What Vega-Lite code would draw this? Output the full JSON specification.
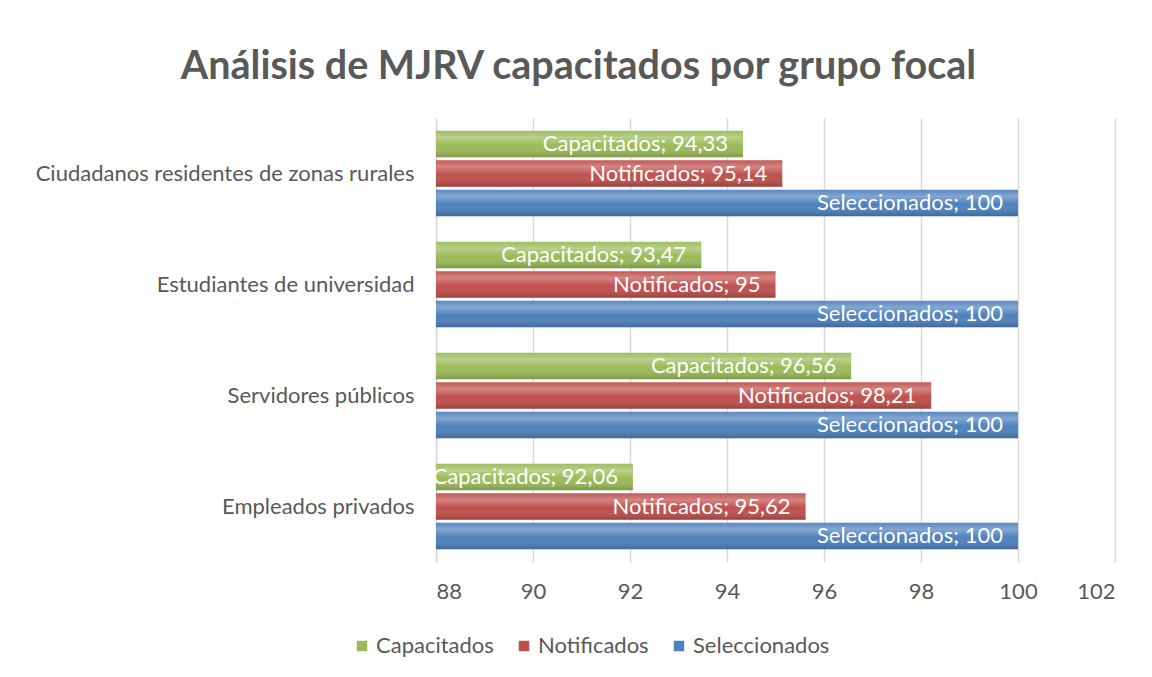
{
  "$schema": "https://vega.github.io/schema/vega-lite/v6.json",
  "autosize": {"type": "none"},
  "width": 679,
  "height": 444,
  "padding": {"left": 436, "top": 118, "right": 37, "bottom": 115},
  "background": "white",
  "title": {
    "text": "Análisis de MJRV capacitados por grupo focal",
    "font": "Lato",
    "fontSize": 39.5,
    "fontWeight": "bold",
    "color": "#595959",
    "anchor": "middle",
    "frame": "group",
    "dx": -197,
    "offset": 31
  },
  "data": {
    "values": [
      {"grupo": "Ciudadanos residentes de zonas rurales", "serie": "Capacitados", "valor": 94.33},
      {"grupo": "Ciudadanos residentes de zonas rurales", "serie": "Notificados", "valor": 95.14},
      {"grupo": "Ciudadanos residentes de zonas rurales", "serie": "Seleccionados", "valor": 100},
      {"grupo": "Estudiantes de universidad", "serie": "Capacitados", "valor": 93.47},
      {"grupo": "Estudiantes de universidad", "serie": "Notificados", "valor": 95},
      {"grupo": "Estudiantes de universidad", "serie": "Seleccionados", "valor": 100},
      {"grupo": "Servidores públicos", "serie": "Capacitados", "valor": 96.56},
      {"grupo": "Servidores públicos", "serie": "Notificados", "valor": 98.21},
      {"grupo": "Servidores públicos", "serie": "Seleccionados", "valor": 100},
      {"grupo": "Empleados privados", "serie": "Capacitados", "valor": 92.06},
      {"grupo": "Empleados privados", "serie": "Notificados", "valor": 95.62},
      {"grupo": "Empleados privados", "serie": "Seleccionados", "valor": 100}
    ]
  },
  "transform": [
    {"calculate": "datum.serie + '; ' + replace(toString(datum.valor), '.', ',')", "as": "etiqueta"}
  ],
  "encoding": {
    "y": {
      "field": "grupo",
      "type": "nominal",
      "sort": ["Ciudadanos residentes de zonas rurales", "Estudiantes de universidad", "Servidores públicos", "Empleados privados"],
      "scale": {"paddingInner": 0.23, "paddingOuter": 0.115},
      "axis": {
        "title": null,
        "domain": true,
        "domainColor": "#d9d9d9",
        "domainWidth": 1.5,
        "ticks": false,
        "labelFont": "Lato",
        "labelFontSize": 22,
        "labelColor": "#595959",
        "labelPadding": 22,
        "labelLimit": 500
      }
    },
    "yOffset": {
      "field": "serie",
      "type": "nominal",
      "sort": ["Capacitados", "Notificados", "Seleccionados"],
      "scale": {"paddingInner": 0.1}
    }
  },
  "layer": [
    {
      "mark": {"type": "bar", "cornerRadius": 0},
      "encoding": {
        "x": {
          "field": "valor",
          "type": "quantitative",
          "scale": {"domain": [88, 102], "zero": false, "nice": false},
          "axis": {
            "title": null,
            "values": [88, 90, 92, 94, 96, 98, 100, 102],
            "domain": false,
            "ticks": false,
            "grid": true,
            "gridColor": "#d9d9d9",
            "gridWidth": 1.5,
            "labelFont": "Lato",
            "labelFontSize": 22,
            "labelColor": "#595959",
            "labelPadding": 19
          }
        },
        "x2": {"datum": 88},
        "color": {
          "field": "serie",
          "type": "nominal",
          "sort": ["Capacitados", "Notificados", "Seleccionados"],
          "scale": {"domain": ["Capacitados", "Notificados", "Seleccionados"], "range": ["#9bbb59", "#c0504d", "#4f81bd"]},
          "legend": {
            "title": null,
            "orient": "none",
            "direction": "horizontal",
            "legendX": -85,
            "legendY": 517,
            "symbolType": "square",
            "symbolSize": 110,
            "symbolStrokeWidth": 0,
            "labelFont": "Lato",
            "labelFontSize": 22,
            "labelColor": "#595959",
            "labelOffset": 3,
            "columnPadding": 19
          }
        }
      }
    },
    {
      "mark": {
        "type": "bar",
        "fill": {
          "gradient": "linear",
          "x1": 0, "y1": 0, "x2": 0, "y2": 1,
          "stops": [
            {"offset": 0, "color": "rgba(255,255,255,0.05)"},
            {"offset": 0.25, "color": "rgba(255,255,255,0.3)"},
            {"offset": 0.55, "color": "rgba(255,255,255,0.0)"},
            {"offset": 1, "color": "rgba(0,0,0,0.2)"}
          ]
        }
      },
      "encoding": {
        "x": {"field": "valor", "type": "quantitative"},
        "x2": {"datum": 88}
      }
    },
    {
      "mark": {"type": "text", "align": "right", "baseline": "middle", "dx": -15, "font": "Lato", "fontSize": 22, "color": "white"},
      "encoding": {
        "x": {"field": "valor", "type": "quantitative"},
        "text": {"field": "etiqueta"}
      }
    }
  ],
  "config": {
    "view": {"stroke": null}
  }
}
